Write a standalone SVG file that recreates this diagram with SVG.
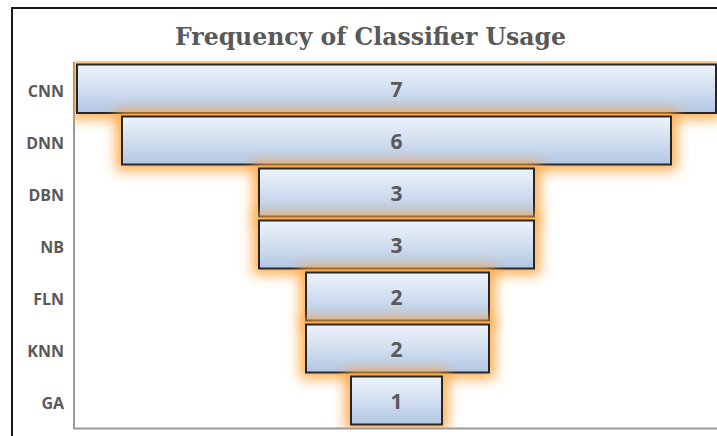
<svg xmlns="http://www.w3.org/2000/svg" width="717" height="436" viewBox="0 0 717 436">
  <style>
    .title { font-family: "DejaVu Serif", "Liberation Serif", serif; font-weight: bold; font-size: 25px; fill: #595959; }
    .cat { font-family: "Open Sans", "Liberation Sans", sans-serif; font-weight: bold; font-size: 16px; fill: #595959; text-anchor: end; }
    .val { font-family: "Open Sans", "Liberation Sans", sans-serif; font-weight: bold; font-size: 21px; fill: #595959; text-anchor: middle; }
    .bar { fill: url(#barFill); stroke: #262626; stroke-width: 2; }
    .glow { fill: #ffa238; opacity: 0.9; filter: url(#soft); }
  </style>
  <defs>
    <linearGradient id="barFill" x1="0" y1="0" x2="0" y2="1">
      <stop offset="0" stop-color="#eef3fa"/>
      <stop offset="0.5" stop-color="#d2dff0"/>
      <stop offset="1" stop-color="#b2c6e4"/>
    </linearGradient>
    <filter id="soft" x="-30%" y="-60%" width="160%" height="220%">
      <feGaussianBlur stdDeviation="6.5"/>
    </filter>
    <clipPath id="plot">
      <rect x="74" y="61" width="643" height="367"/>
    </clipPath>
  </defs>

  <rect width="717" height="436" fill="#ffffff"/>

  <!-- chart frame -->
  <path d="M12 436 V8 H717" fill="none" stroke="#1a1a1a" stroke-width="2"/>

  <text class="title" x="370.5" y="45" text-anchor="middle" textLength="391" lengthAdjust="spacingAndGlyphs">Frequency of Classifier Usage</text>

  <!-- plot axes -->
  <g id="axes">
    <path d="M74 62 V428.5 H717" fill="none" stroke="#9a9a9a" stroke-width="2"/>
  </g>

  <!-- category labels -->
  <g id="labels">
    <text class="cat" x="64" y="97">CNN</text>
    <text class="cat" x="64" y="148.5">DNN</text>
    <text class="cat" x="64" y="200.5">DBN</text>
    <text class="cat" x="64" y="252.5">NB</text>
    <text class="cat" x="64" y="304.5">FLN</text>
    <text class="cat" x="64" y="356.5">KNN</text>
    <text class="cat" x="64" y="408.5">GA</text>
  </g>

  <!-- funnel bars, drawn top to bottom so each glow overlaps the bar above -->
  <g clip-path="url(#plot)">
    <g id="bar-cnn">
      <rect class="glow" x="71" y="58.5" width="651" height="60.5"/>
      <rect class="bar" x="77" y="64.5" width="639" height="48.5"/>
      <text class="val" x="396.5" y="96.5">7</text>
    </g>
    <g id="bar-dnn">
      <rect class="glow" x="116" y="110.5" width="561" height="60"/>
      <rect class="bar" x="122" y="116.5" width="549" height="48"/>
      <text class="val" x="396.5" y="148.5">6</text>
    </g>
    <g id="bar-dbn">
      <rect class="glow" x="253" y="162.5" width="287" height="60"/>
      <rect class="bar" x="259" y="168.5" width="275" height="48"/>
      <text class="val" x="396.5" y="200.5">3</text>
    </g>
    <g id="bar-nb">
      <rect class="glow" x="253" y="214.5" width="287" height="60"/>
      <rect class="bar" x="259" y="220.5" width="275" height="48"/>
      <text class="val" x="396.5" y="252.5">3</text>
    </g>
    <g id="bar-fln">
      <rect class="glow" x="300" y="266.5" width="195" height="60"/>
      <rect class="bar" x="306" y="272.5" width="183" height="48"/>
      <text class="val" x="396.5" y="304.5">2</text>
    </g>
    <g id="bar-knn">
      <rect class="glow" x="300" y="318.5" width="195" height="60"/>
      <rect class="bar" x="306" y="324.5" width="183" height="48"/>
      <text class="val" x="396.5" y="356.5">2</text>
    </g>
    <g id="bar-ga">
      <rect class="glow" x="345" y="370.5" width="103" height="60"/>
      <rect class="bar" x="351" y="376.5" width="91" height="48"/>
      <text class="val" x="396.5" y="408.5">1</text>
    </g>
  </g>
</svg>
